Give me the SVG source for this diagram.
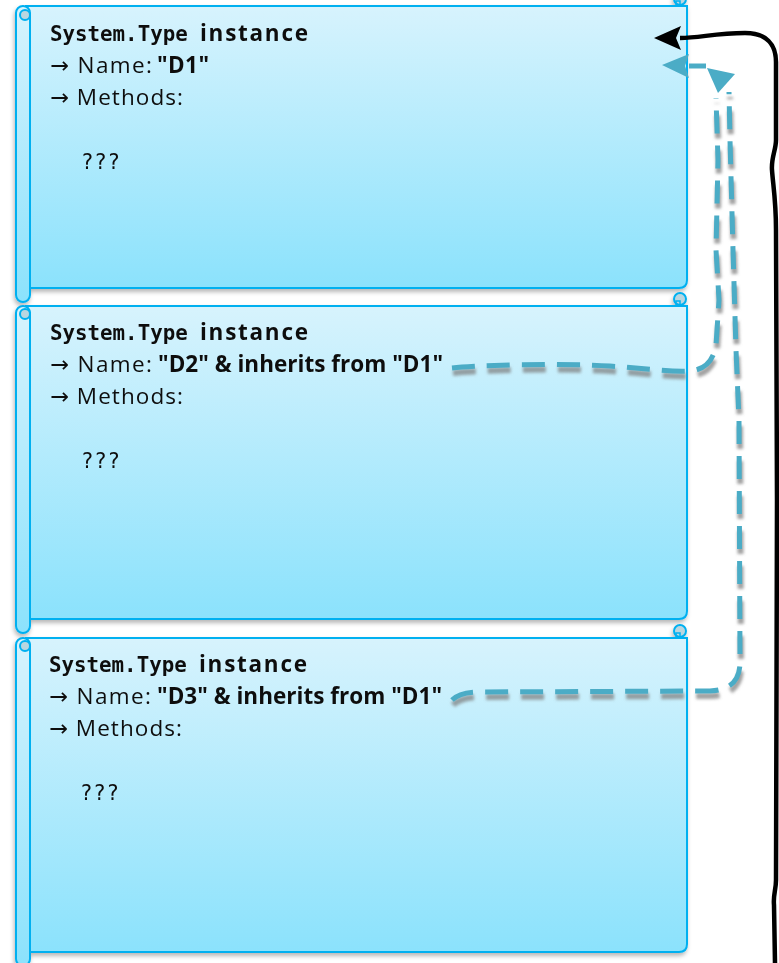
<svg xmlns="http://www.w3.org/2000/svg" xmlns:xlink="http://www.w3.org/1999/xlink" width="779" height="963" viewBox="0 0 779 963">
  <style>
    .body { stroke: #00b0f0; stroke-width: 2; }
    .tube { stroke: #00b0f0; stroke-width: 2; }
    .curl { fill: #b9d6e0; stroke: #00b0f0; stroke-width: 2; }
    .curl-sq { fill: none; stroke: #00b0f0; stroke-width: 1.5; }
    .mono { font-family: "DejaVu Sans Mono", "Liberation Mono", monospace; font-size: 20.8px; fill: #111; }
    .sans { font-family: "Open Sans", "DejaVu Sans", sans-serif; font-size: 22.5px; fill: #111; }
    .b { font-weight: bold; }
    .link { fill: none; stroke: #4bacc6; stroke-width: 5; stroke-dasharray: 23 12; }
    .link-shadow { fill: none; stroke: #7a7a7a; stroke-width: 6; stroke-dasharray: 23 12; opacity: 0.7; }
    .head { fill: #4bacc6; }
  </style>
  <defs>
    <linearGradient id="card" x1="0" y1="0" x2="0" y2="1">
      <stop offset="0" stop-color="#d7f3fd"/>
      <stop offset="1" stop-color="#8be2fc"/>
    </linearGradient>
    <filter id="cardShadow" x="-5%" y="-5%" width="110%" height="110%">
      <feDropShadow dx="-1" dy="3" stdDeviation="2" flood-color="#000" flood-opacity="0.28"/>
    </filter>
    <filter id="soft" x="-20%" y="-20%" width="140%" height="140%">
      <feGaussianBlur stdDeviation="1.8"/>
    </filter>
    <path id="linkD2" d="M452,368 C480,365 560,363 610,366 C650,369 670,372 690,371 Q712,369 716,345 L719,300 L716,250 L718,160 L716,98"/>
    <path id="linkD3" d="M452,700 Q460,692 478,692 L710,691 Q740,690 740,662 L739,420 L736,350 L733,250 L730,140 L729,92"/>
    <path id="linkTop" d="M689,66 L706,66"/>
  </defs>

  <!-- Type object for D1 -->
  <g id="type-d1" filter="url(#cardShadow)">
    <path class="body" fill="url(#card)" d="M26,6 H687 V280 Q687,288 679,288 H26 Z"/>
    <rect class="tube" fill="url(#card)" x="16" y="6" width="14" height="296" rx="7"/>
    <circle class="curl" cx="25" cy="15" r="5"/>
    <circle class="curl" cx="680" cy="-1" r="6"/>
    <rect class="curl-sq" x="676" y="1" width="4" height="4"/>
    <text class="mono b" x="50" y="41">System.Type<tspan class="sans b" x="200" textLength="108">instance</tspan></text>
    <text class="sans" x="50" y="73"><tspan textLength="102">→ Name:</tspan><tspan class="b" x="157" textLength="52">"D1"</tspan></text>
    <text class="sans" x="50" y="105" textLength="133">→ Methods:</text>
    <text class="mono" x="81" y="169" textLength="39">???</text>
  </g>

  <!-- Type object for D2 -->
  <g id="type-d2" filter="url(#cardShadow)">
    <path class="body" fill="url(#card)" d="M26,306 H687 V611 Q687,619 679,619 H26 Z"/>
    <rect class="tube" fill="url(#card)" x="16" y="306" width="14" height="327" rx="7"/>
    <circle class="curl" cx="25" cy="314" r="5"/>
    <circle class="curl" cx="680" cy="299" r="6"/>
    <rect class="curl-sq" x="676" y="301" width="4" height="4"/>
    <text class="mono b" x="50" y="340">System.Type<tspan class="sans b" x="200" textLength="108">instance</tspan></text>
    <text class="sans" x="50" y="372"><tspan textLength="102">→ Name:</tspan><tspan class="b" x="158" textLength="285">"D2" &amp; inherits from "D1"</tspan></text>
    <text class="sans" x="50" y="404" textLength="133">→ Methods:</text>
    <text class="mono" x="81" y="468" textLength="39">???</text>
  </g>

  <!-- Type object for D3 -->
  <g id="type-d3" filter="url(#cardShadow)">
    <path class="body" fill="url(#card)" d="M26,638 H687 V944 Q687,952 679,952 H26 Z"/>
    <rect class="tube" fill="url(#card)" x="16" y="638" width="14" height="328" rx="7"/>
    <circle class="curl" cx="25" cy="646" r="5"/>
    <circle class="curl" cx="680" cy="631" r="6"/>
    <rect class="curl-sq" x="676" y="633" width="4" height="4"/>
    <text class="mono b" x="49" y="672">System.Type<tspan class="sans b" x="199" textLength="108">instance</tspan></text>
    <text class="sans" x="49" y="704"><tspan textLength="102">→ Name:</tspan><tspan class="b" x="157" textLength="285">"D3" &amp; inherits from "D1"</tspan></text>
    <text class="sans" x="49" y="736" textLength="133">→ Methods:</text>
    <text class="mono" x="80" y="800" textLength="39">???</text>
  </g>

  <!-- Connectors -->
  <g id="connectors">
    <!-- soft shadows under the dashed inheritance links -->
    <g filter="url(#soft)" transform="translate(1,5)">
      <use xlink:href="#linkD2" class="link-shadow"/>
      <use xlink:href="#linkD3" class="link-shadow"/>
    </g>
    <use xlink:href="#linkD2" class="link"/>
    <use xlink:href="#linkD3" class="link"/>
    <use xlink:href="#linkTop" class="link" style="stroke-dasharray:none"/>
    <polygon class="head" points="662,65 689,54 685,66 689,78"/>
    <polygon class="head" points="707,68 735,74 718,93"/>

    <!-- hand-drawn black link running down the right side -->
    <path d="M680,38 C700,38 715,33 745,33 C766,33 776,44 776,62 L776,140 C776,150 771,158 772,170 C773,185 776,200 776,230 L777,500 L776,880 C776,890 773,895 774,905 L775,963" fill="none" stroke="#000" stroke-width="4.5" stroke-linejoin="round"/>
    <polygon points="654,38 681,26 676,38 681,50" fill="#000"/>
  </g>
</svg>
